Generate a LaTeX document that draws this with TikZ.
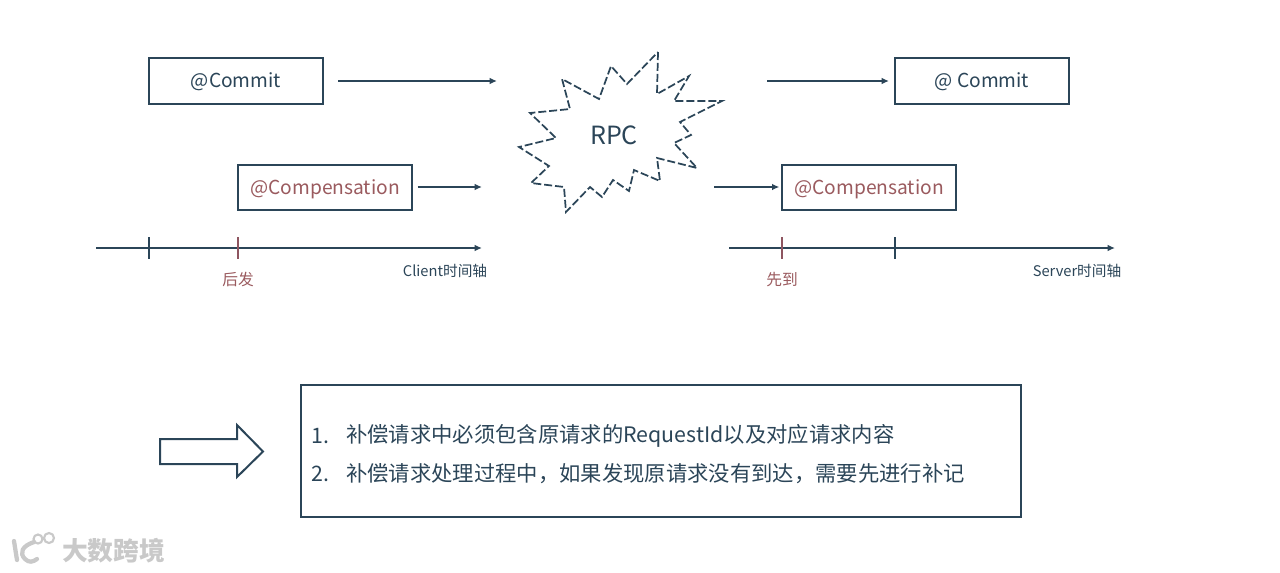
\documentclass[tikz,border=0pt]{standalone}
\usepackage{fontspec}
\setmainfont{Noto Sans CJK SC}
\usetikzlibrary{arrows.meta}
\definecolor{ink}{HTML}{2B4558}
\definecolor{redtxt}{HTML}{9A5A5E}
\definecolor{redtick}{HTML}{8E5560}
\definecolor{wm}{HTML}{C9C9C9}
\newcommand{\boxlabel}[1]{\raisebox{-4.9pt}[0pt][0pt]{#1}}
\tikzset{
  box/.style={draw=ink,line width=1.5pt,fill=white,minimum height=34.5pt,inner sep=0pt,text=ink,font=\fontsize{14.4}{18}\selectfont},
  redbox/.style={box,text=redtxt,minimum height=34pt},
  conn/.style={draw=ink,line width=1.5pt,-{Latex[length=5.5pt,width=5pt]}},
  axis/.style={conn},
  tick/.style={draw=ink,line width=1.5pt},
  redtk/.style={draw=redtick,line width=1.5pt},
  small/.style={font=\fontsize{11}{12}\selectfont,text=ink,inner sep=0pt},
  smallred/.style={font=\fontsize{11.8}{13}\selectfont,text=redtxt,inner sep=0pt},
  listtxt/.style={font=\fontsize{16}{18}\selectfont,text=ink,inner sep=0pt,anchor=west},
}
\begin{document}
\begin{tikzpicture}[x=0.75pt,y=-0.75pt]
\useasboundingbox (0,0) rectangle (1280,572);
% boxes
\node[box,minimum width=130pt] (c1) at (236,80.5) {\boxlabel{@Commit}};
\node[box,minimum width=130pt] (c2) at (982,80.5) {\boxlabel{@ Commit}};
\node[redbox,minimum width=130pt] (p1) at (325,187.5) {\boxlabel{@Compensation}};
\node[redbox,minimum width=130pt] (p2) at (869,187.5) {\boxlabel{@Compensation}};
% burst
\draw[ink,line width=1.3pt,dash pattern=on 6pt off 2.2pt,line join=miter]
 (658,52)--(657,94)--(689,76)--(674,101)--(722,101)--(680,122)--(691,135)--(674,143)--(697,168)--(657,158)--(660,181)--(634,170)--(629,191)--(613,180)--(602,197)--(590,187)--(566,212)--(564,187)--(531,183)--(549,166)--(519,147)--(556,138)--(530,113)--(570,109)--(562,79)--(599,99)--(611,66)--(627,84)--cycle;
\node[font=\fontsize{18.8}{22}\selectfont,text=ink,inner sep=0pt] (rpc) at (614,135) {RPC};
% connector ends
\coordinate (a1s) at (338,81);
\coordinate (a1e) at (497,81);
\coordinate (a2s) at (767,81);
\coordinate (a3e) at (482,187);
\coordinate (a4s) at (714,187);
\draw[conn] (a1s) -- (a1e);
\draw[conn,shorten >=4pt] (a2s) -- (c2.west |- a2s);
\path (p1.east) ++(5,-0.5) coordinate (a3s);
\draw[conn] (a3s) -- (a3e);
\draw[conn,shorten >=1.5pt] (a4s) -- (p2.west |- a4s);
% client axis
\coordinate (lx0) at (96,248);
\coordinate (lx1) at (482,248);
\draw[axis] (lx0) -- (lx1);
\coordinate (t1a) at (149,237); \coordinate (t1b) at (149,259);
\coordinate (t2a) at (238,237); \coordinate (t2b) at (238,259);
\draw[tick] (t1a) -- (t1b);
\draw[redtk] (t2a) -- (t2b);
\node[smallred] (hf) at (238,280) {后发};
\node[small] (cl) at (445,271) {Client时间轴};
% server axis
\coordinate (rx0) at (729,248);
\coordinate (rx1) at (1115,248);
\draw[axis] (rx0) -- (rx1);
\coordinate (t3a) at (782,237); \coordinate (t3b) at (782,259);
\coordinate (t4a) at (895,237); \coordinate (t4b) at (895,259);
\draw[redtk] (t3a) -- (t3b);
\draw[tick] (t4a) -- (t4b);
\node[smallred] (xd) at (782,280) {先到};
\node[small] (sv) at (1077,271) {Server时间轴};
% big arrow
\draw[ink,line width=1.5pt,fill=white,line join=miter]
 (160,439)--(237,439)--(237,425)--(263,451.5)--(237,477)--(237,464)--(160,464)--cycle;
% text box
\node[draw=ink,line width=1.5pt,minimum width=540pt,minimum height=99.5pt,inner sep=0pt] (bx) at (661,451) {};
\node[listtxt] (n1) at (311,436) {1.};
\node[listtxt] (l1) at (346,436) {补偿请求中必须包含原请求的RequestId以及对应请求内容};
\node[listtxt] (n2) at (311,474) {2.};
\node[listtxt] (l2) at (346,474) {补偿请求处理过程中，如果发现原请求没有到达，需要先进行补记};
% watermark
\node[font=\bfseries\fontsize{19.3}{20}\selectfont,text=wm,inner sep=0pt] (wmt) at (113.5,551) {大数跨境};
\draw[wm,line width=3.2pt,line cap=round] (14,541)--(17,560);
\draw[wm,line width=3.2pt,line cap=round] (34,542) .. controls (22,546) and (19,553) .. (25,559) .. controls (29,563) and (33,562) .. (37,559);
\draw[wm,line width=1.6pt] (38,539) circle (4.5) (49,538) circle (5);
\end{tikzpicture}
\end{document}
